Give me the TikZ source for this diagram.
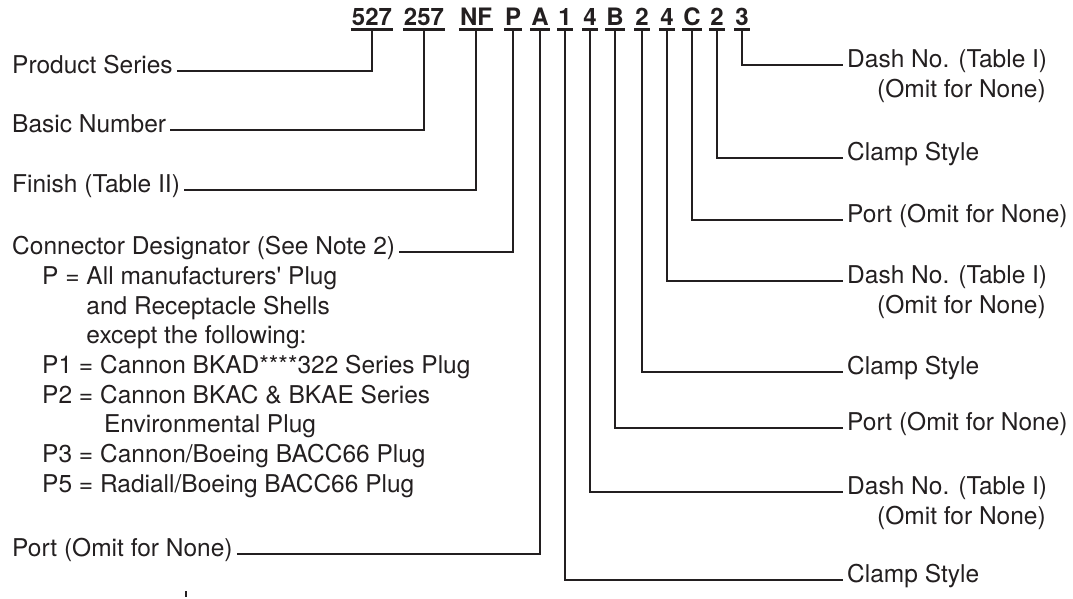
\documentclass[tikz,border=0pt]{standalone}
\usepackage{fontspec}
\setmainfont{TeX Gyre Heros}
\usetikzlibrary{positioning}
\definecolor{ink}{HTML}{231F20}

\tikzset{
	lbl/.style={font=\fontsize{24.5}{29.7}\selectfont, text=ink, inner xsep=4pt, inner ysep=2pt, anchor=mid west},
	code/.style={font=\fontsize{24}{28}\selectfont\bfseries, text=ink, inner xsep=1pt, inner ysep=0pt, anchor=base},
	lead/.style={draw=ink, line width=1.8pt},
	uline/.style={draw=ink, line width=2.4pt}
}

\begin{document}
\begin{tikzpicture}[x=1pt,y=1pt]
	\useasboundingbox (0,0) rectangle (1073,-599);
	
	% part number
	\foreach \i/\x/\txt in {1/372/527, 2/424/257, 3/476/NF, 4/513/P, 5/540/A, 6/565/1, 7/590/4,
		8/615/B, 9/642/2, 10/667/4, 11/692/C, 12/717/2, 13/742/3}{
		\node[code] (c\i) at (\x,-26) {\txt};
		\draw[uline] ([yshift=-3.5pt]c\i.base west) -- ([yshift=-3.5pt]c\i.base east);
		\coordinate (u\i) at ([yshift=-3.5pt]c\i.base);
	}
	
	% left side
	\node[lbl] (series) at (8,-71) {Product Series};
	\node[lbl] (basic) at (8,-130) {Basic Number};
	\node[lbl] (finish) at (8,-190) {Finish (Table II)};
	\node[lbl] (desig) at (8,-252) {Connector Designator (See Note 2)};
	\foreach \i/\txt in {1/{P = All manufacturers\textquotesingle{} Plug}, 2/{\hphantom{P = }and Receptacle Shells},
		3/{\hphantom{P = }except the following:}, 4/{P1 = Cannon BKAD****322 Series Plug},
		5/{P2 = Cannon BKAC \& BKAE Series}, 6/{\hphantom{P2 = }\hspace{4pt}Environmental Plug},
		7/{P3 = Cannon/Boeing BACC66 Plug}, 8/{P5 = Radiall/Boeing BACC66 Plug}}
		\node[lbl] (note\i) at (38,{-252-29.7*\i}) {\txt};
	\node[lbl] (portA) at (8,-554) {Port (Omit for None)};
	
	% right side
	\node[lbl] (dash3) at (843,-65) {Dash No. (Table I)};
	\node[lbl, below right=29.7pt and 30pt of dash3.mid west, anchor=mid west] (omit3) {(Omit for None)};
	\node[lbl] (clamp3) at (843,-158) {Clamp Style};
	\node[lbl] (port3) at (843,-220) {Port (Omit for None)};
	\node[lbl] (dash2) at (843,-281) {Dash No. (Table I)};
	\node[lbl, below right=29.7pt and 30pt of dash2.mid west, anchor=mid west] (omit2) {(Omit for None)};
	\node[lbl] (clamp2) at (843,-372) {Clamp Style};
	\node[lbl] (port2) at (843,-428) {Port (Omit for None)};
	\node[lbl] (dash1) at (843,-492) {Dash No. (Table I)};
	\node[lbl, below right=29.7pt and 30pt of dash1.mid west, anchor=mid west] (omit1) {(Omit for None)};
	\node[lbl] (clamp1) at (843,-580) {Clamp Style};
	
	% leaders
	\draw[lead] (series.mid east) -| (u1);
	\draw[lead] (basic.mid east) -| (u2);
	\draw[lead] (finish.mid east) -| (u3);
	\draw[lead] (desig.mid east) -| (u4);
	\draw[lead] (portA.mid east) -| (u5);
	\draw[lead] (u6) |- (clamp1.mid west);
	\draw[lead] (u7) |- (dash1.mid west);
	\draw[lead] (u8) |- (port2.mid west);
	\draw[lead] (u9) |- (clamp2.mid west);
	\draw[lead] (u10) |- (dash2.mid west);
	\draw[lead] (u11) |- (port3.mid west);
	\draw[lead] (u12) |- (clamp3.mid west);
	\draw[lead] (u13) |- (dash3.mid west);
	
	\draw[draw=ink, line width=1.4pt] (186,-591) -- (186,-597);
\end{tikzpicture}
\end{document}
